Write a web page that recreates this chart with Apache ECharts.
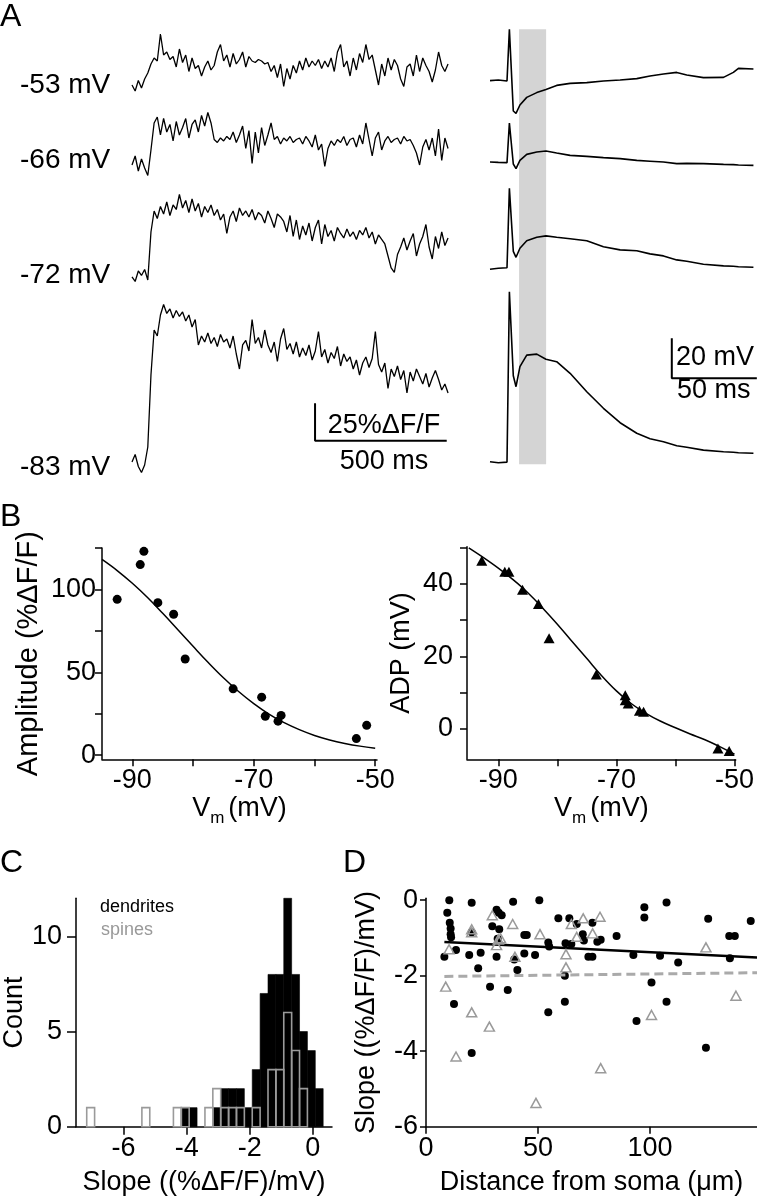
<!DOCTYPE html>
<html><head><meta charset="utf-8">
<script src="https://cdn.jsdelivr.net/npm/echarts@6/dist/echarts.min.js"></script>
<style>html,body{margin:0;padding:0;background:#fff}#c{width:757px;height:1199px}</style>
</head><body><div id="c"></div>
<script>
// ---------------- DATA ----------------
// Panel A, left: dendritic fluorescence traces (%ΔF/F), one sample every 12 ms
const fluorLabels = ['-53 mV', '-66 mV', '-72 mV', '-83 mV'];
const fluorStepMs = 12;
const fluor53 = [0,-4,3,-2,4,8,14,18,16,34,20,22,17,19,12,24,15,20,9,18,11,13,6,12,16,10,13,22,27,16,20,12,21,14,17,22,12,19,16,15,17,16,14,15,9,13,5,14,-1,11,4,13,8,16,10,18,12,16,13,17,11,16,12,18,9,22,27,12,16,6,18,10,21,15,27,17,20,10,0,14,6,18,10,17,13,4,-1,12,14,6,20,9,18,13,9,2,10,22,13,9,14];
const fluor66 = [2,8,-2,6,0,-5,12,30,34,22,33,24,29,18,31,22,27,33,20,29,32,24,35,28,37,30,19,17,20,18,21,19,24,17,22,28,13,25,3,24,10,27,15,22,30,19,21,16,20,18,21,17,19,20,16,21,18,14,22,12,16,1,13,18,15,19,17,21,15,19,20,14,22,16,30,19,8,20,24,12,18,21,17,19,20,16,21,18,19,15,10,2,14,19,12,20,8,26,5,20,13];
const fluor72 = [0,-3,4,1,5,-2,30,44,39,47,42,50,41,48,45,55,46,51,43,52,44,49,40,47,43,48,41,45,38,42,29,40,44,37,46,41,44,40,45,38,43,41,36,44,39,33,42,40,37,30,41,27,38,25,34,28,36,24,33,38,22,35,27,31,24,33,29,26,32,27,30,25,31,28,33,26,30,22,28,25,22,14,6,3,15,20,26,18,24,29,14,22,27,35,20,12,27,19,30,21,26];
const fluor83 = [0,5,-3,-7,-2,10,58,88,84,98,105,99,102,96,101,97,100,94,98,90,95,78,84,80,86,79,83,77,85,80,82,76,84,72,62,78,81,74,95,79,83,76,88,78,73,80,67,82,89,75,79,72,80,70,76,71,78,68,74,87,70,75,66,73,69,77,64,72,67,70,62,68,58,66,70,63,69,87,65,60,66,49,62,57,64,55,61,46,60,54,62,57,52,59,50,56,61,55,48,52,46];
const fluorScaleBar = { pct: 25, ms: 500 };

// Panel A, right: somatic voltage (mV) vs time (ms)
const vTimes = [0,4.9,10,11,11.4,12.2,13.7,15.3,17.6,21.6,27.5,32.9,39.2,47.1,56.9,66.7,76.5,86.3,94.1,102,109.8,115.7,125.5,137.3,143.1,146.1,154.9];
const v53 = [-53.3,-53,-53.5,-52.7,-27.7,-27.7,-68.5,-69.7,-65.5,-61.7,-59.3,-57.7,-55.7,-54.7,-54.3,-53.5,-53,-52.3,-51,-50,-49.2,-50.5,-51.8,-51.7,-49.2,-47.2,-47.5];
const v66 = [-66,-66.2,-66.3,-65.5,-46.5,-46.5,-67,-69.3,-65.2,-62.2,-61,-60.5,-61.5,-62.7,-63.2,-63.8,-64.3,-65.2,-65.6,-66,-66.8,-66.7,-66.8,-67.2,-67.3,-67.5,-67.7];
const v72 = [-72,-71.5,-71.2,-70.8,-31.5,-31.5,-63,-66,-61.5,-57.7,-56,-55.3,-56,-56.7,-57.7,-60.7,-62.3,-62.7,-64.3,-65.3,-67.3,-68,-69.5,-70.3,-70.5,-70.7,-71];
const v83 = [-83,-83.5,-83.2,-83,2,2,-40,-45.5,-35.5,-29.7,-29.2,-31.8,-33,-38.8,-48,-56.3,-63.5,-68.8,-71.5,-73,-75,-75.8,-77.2,-78,-78.3,-78.5,-78.8];
const adpWindowMs = [17.1, 33];
const vScaleBar = { mV: 20, ms: 50 };

// Panel B
const ampVm  = [-92.5,-88.7,-88.1,-85.8,-83.2,-81.3,-73.4,-68.7,-68.1,-65.5,-66,-53.1,-51.4];
const ampVal = [94,115,123,92,85,58,40,35,23.5,24,20.5,10,18];
const fitVm  = [-95,-92.5,-90,-87.5,-85,-82.5,-80,-77.5,-75,-72.5,-70,-67.5,-65,-62.5,-60,-57.5,-55,-52.5,-50];
const ampFit = [118.1,111.4,103.7,95.1,85.6,75.7,65.7,55.9,46.7,38.4,31.1,24.8,19.6,15.4,11.9,9.2,7.1,5.45,4.2];
const adpVm  = [-92.8,-88.9,-88.2,-85.9,-83.2,-81.4,-73.4,-68.5,-68.5,-68.0,-66.1,-65.4,-52.8,-50.9];
const adpVal = [46.4,43.4,43.4,38.4,34.5,25.0,15.0,9.3,7.9,7.0,5.0,4.7,-5.4,-6.1];
const adpFit = [50,47.3,44.4,41.2,37.6,33.4,28.9,24.1,19.4,14.7,10.5,7.0,4.3,2.1,0.3,-1.4,-3.0,-4.9,-7.0];

// Panel C: histogram of slopes (bin width 0.25)
const binWidth = 0.25;
const dendBinStart = [-4.17,-3.92,-3.17,-2.92,-2.67,-2.42,-2.17,-1.92,-1.67,-1.42,-1.17,-0.92,-0.67,-0.42,-0.17,0.08];
const dendCounts   = [1,1,1,2,2,2,1,3,7,8,8,12,8,5,4,2];
const spineBinStart = [-7.17,-5.42,-4.42,-4.17,-3.42,-3.17,-2.92,-2.67,-2.42,-1.92,-1.42,-1.17,-0.92,-0.67,-0.42];
const spineCounts   = [1,1,1,1,1,2,1,1,1,1,3,3,6,4,2];

// Panel D: slope vs distance
const dendDist  = [10.4,20.4,9.5,10.6,11.0,11.0,11.2,13.4,8.2,12.5,20.4,19.3,24.4,23.3,20.4,28.6,31.5,32.5,33.8,29.6,32.7,32.0,31.5,36.5,38.9,39.4,40.8,43.9,45.0,43.9,48.7,50.6,54.6,55.0,54.6,59.1,64.0,67.3,74.3,62.3,64.9,70.0,70.5,76.5,78.0,72.5,74.3,62.0,62.0,85.1,92.6,97.5,97.5,100.7,104.5,107.4,107.4,94.0,112.6,126.0,125.0,135.4,137.9,135.7,145.0];
const dendSlope = [0.0,-0.07,-0.33,-0.6,-0.75,-0.9,-0.98,-1.32,-1.5,-2.75,-4.05,-1.45,-1.39,-1.8,-0.85,-2.29,-0.25,-0.33,-0.4,-0.69,-0.77,-1.02,-1.5,-2.38,-0.04,-1.57,-1.85,-0.92,-0.92,-1.41,-1.45,0.0,-1.12,-1.23,-2.97,-0.48,-0.48,-0.63,-0.6,-1.14,-1.16,-0.9,-1.07,-1.1,-1.05,-1.5,-1.5,-2.0,-2.69,-0.95,-1.45,-0.19,-0.46,-2.18,-1.47,-0.06,-2.69,-3.2,-1.65,-0.49,-3.91,-0.95,-0.95,-1.54,-0.55];
const spineDist  = [8.8,10.3,13.4,20.4,20.4,20.4,29.6,28.3,31.5,32.3,33.3,38.7,39.7,49.1,50.9,62.5,62.5,64.9,67.3,70.2,74.4,77.7,78.0,100.7,125.0,138.4];
const spineSlope = [-2.29,-1.3,-4.14,-0.77,-0.85,-2.97,-0.4,-3.35,-1.19,-1.04,-1.01,-0.63,-1.5,-5.37,-0.9,-1.43,-1.78,-0.63,-0.97,-0.48,-0.88,-0.44,-4.45,-3.04,-1.25,-2.53];
const fitDist = [8.2, 147.8];
const dendFitSlope  = [-1.11, -1.52];
const spineFitSlope = [-2.02, -1.92];

// ---------------- CHART ----------------
const FONT = 'Liberation Sans';
const FS = 27;
const GRAY = '#9a9a9a';
const chart = echarts.init(document.getElementById('c'));

const grid = [], xAxis = [], yAxis = [], series = [];
function addGrid(g) { grid.push(g); return grid.length - 1; }
function hidden(gi, min, max) { return { type: 'value', gridIndex: gi, min, max, show: false }; }
function shownAxis(gi, min, max, ticks, labels, opt) {
  return Object.assign({
    type: 'value', gridIndex: gi, min, max,
    axisLine: { show: true, onZero: false, lineStyle: { color: '#000', width: 1.5 } },
    axisTick: { show: true, length: 7, lineStyle: { color: '#000', width: 1.5 }, customValues: ticks },
    axisLabel: { show: true, color: '#000', fontFamily: FONT, fontSize: FS, margin: 8, customValues: labels },
    splitLine: { show: false },
    nameLocation: 'middle',
    nameTextStyle: { color: '#000', fontFamily: FONT, fontSize: FS }
  }, opt || {});
}
const pair = (xs, ys) => xs.map((x, i) => [x, ys[i]]);

// ---- Panel A left traces
const fluorTraces = [fluor53, fluor66, fluor72, fluor83];
const fluorLayout = [
  { top: 25, height: 75, min: -10, max: 40 },
  { top: 100, height: 80, min: -8, max: 45.33 },
  { top: 185, height: 105, min: -8.67, max: 61.33 },
  { top: 295, height: 185, min: -12, max: 111.33 }
];
let lastFluorGrid = 0;
fluorTraces.forEach((tr, k) => {
  const L = fluorLayout[k];
  const gi = addGrid({ left: 132, width: 320, top: L.top, height: L.height });
  xAxis.push(hidden(gi, 0, 1215));
  yAxis.push(hidden(gi, L.min, L.max));
  series.push({ type: 'line', xAxisIndex: gi, yAxisIndex: gi, data: tr.map((v, i) => [i * fluorStepMs, v]),
    showSymbol: false, symbol: 'none', lineStyle: { color: '#000', width: 1.3 }, z: 3 });
  lastFluorGrid = gi;
});
// scale bar (25 %ΔF/F, 500 ms) drawn in the -83 mV trace's coordinates
{
  const t0 = 695, y0 = 14.2;
  series.push({ type: 'line', xAxisIndex: lastFluorGrid, yAxisIndex: lastFluorGrid,
    data: [[t0, y0 + fluorScaleBar.pct], [t0, y0], [t0 + fluorScaleBar.ms, y0]],
    showSymbol: false, symbol: 'none', lineStyle: { color: '#000', width: 2 }, z: 3 });
}

// ---- Panel A right: gray ADP window band
{
  const gi = addGrid({ left: 490, width: 267, top: 29.3, height: 435 });
  xAxis.push(hidden(gi, 0, 157));
  yAxis.push(hidden(gi, 0, 1));
  series.push({ type: 'custom', xAxisIndex: gi, yAxisIndex: gi, z: 0, silent: true,
    data: [[adpWindowMs[0], adpWindowMs[1]]],
    renderItem: (params, api) => {
      const cs = params.coordSys;
      const a = api.coord([api.value(0), 0]), b = api.coord([api.value(1), 0]);
      return { type: 'rect', shape: { x: a[0], y: cs.y, width: b[0] - a[0], height: cs.height }, style: { fill: '#d4d4d4' } };
    } });
}
const vTraces = [v53, v66, v72, v83];
const vLayout = [
  { top: 25, height: 95, min: -73, max: -25.5 },
  { top: 110, height: 65, min: -72.5, max: -40 },
  { top: 180, height: 100, min: -77.35, max: -27.35 },
  { top: 285, height: 185, min: -87.15, max: 5.35 }
];
let lastVGrid = 0;
vTraces.forEach((tr, k) => {
  const L = vLayout[k];
  const gi = addGrid({ left: 490, width: 267, top: L.top, height: L.height });
  xAxis.push(hidden(gi, 0, 157));
  yAxis.push(hidden(gi, L.min, L.max));
  series.push({ type: 'line', xAxisIndex: gi, yAxisIndex: gi, data: pair(vTimes, tr),
    showSymbol: false, symbol: 'none', lineStyle: { color: '#000', width: 1.6 }, z: 3 });
  lastVGrid = gi;
});
{
  const t0 = 106.9, y0 = -41.3;
  series.push({ type: 'line', xAxisIndex: lastVGrid, yAxisIndex: lastVGrid,
    data: [[t0, y0 + vScaleBar.mV], [t0, y0], [t0 + vScaleBar.ms, y0]],
    showSymbol: false, symbol: 'none', lineStyle: { color: '#000', width: 2 }, z: 3 });
}

// ---- Panel B
const vmName = '{v|V}{s|m}{v|(mV)}';
const vmRich = { v: { fontFamily: FONT, fontSize: FS, color: '#000', lineHeight: 36 },
                 s: { fontFamily: FONT, fontSize: 17, color: '#000', verticalAlign: 'bottom', lineHeight: 17, padding: [0, 4, 0, 0] } };
{
  const gi = addGrid({ left: 102, right: 380, top: 548, bottom: 439.7 });
  xAxis.push(shownAxis(gi, -95, -49.7, [-90, -80, -70, -60, -50], [-90, -70, -50],
    { name: vmName, nameGap: 28, nameTextStyle: { color: '#000', fontFamily: FONT, fontSize: FS, rich: vmRich } }));
  yAxis.push(shownAxis(gi, -2.5, 125, [0, 25, 50, 75, 100, 125], [0, 50, 100],
    { name: 'Amplitude (%ΔF/F)', nameGap: 59, nameRotate: 90, nameTextStyle: { color: '#000', fontFamily: FONT, fontSize: 29 } }));
  yAxis[gi].axisLabel.margin = 6;
  series.push({ type: 'line', xAxisIndex: gi, yAxisIndex: gi, data: pair(fitVm, ampFit), smooth: 0.4,
    showSymbol: false, symbol: 'none', lineStyle: { color: '#000', width: 1.5 } });
  series.push({ type: 'scatter', xAxisIndex: gi, yAxisIndex: gi, data: pair(ampVm, ampVal),
    symbol: 'circle', symbolSize: 9, itemStyle: { color: '#000', opacity: 1 } });
}
{
  const gi = addGrid({ left: 467, right: 13.7, top: 546.7, bottom: 439.7 });
  xAxis.push(shownAxis(gi, -95.3, -49.8, [-90, -80, -70, -60, -50], [-90, -70, -50],
    { name: vmName, nameGap: 28, nameTextStyle: { color: '#000', fontFamily: FONT, fontSize: FS, rich: vmRich } }));
  yAxis.push(shownAxis(gi, -8.4, 50.3, [0, 10, 20, 30, 40, 50], [0, 20, 40],
    { name: 'ADP (mV)', nameGap: 52, nameRotate: 90 }));
  yAxis[gi].axisLabel.margin = 14;
  series.push({ type: 'line', xAxisIndex: gi, yAxisIndex: gi, data: pair(fitVm, adpFit), smooth: 0.4,
    showSymbol: false, symbol: 'none', lineStyle: { color: '#000', width: 1.5 } });
  series.push({ type: 'scatter', xAxisIndex: gi, yAxisIndex: gi, data: pair(adpVm, adpVal),
    symbol: 'triangle', symbolSize: [11, 10], itemStyle: { color: '#000', opacity: 1 } });
}

// ---- Panel C histogram
{
  const gi = addGrid({ left: 76, right: 425, top: 898.3, bottom: 72.3 });
  xAxis.push(shownAxis(gi, -7.51, 0.61, [-6, -4, -2, 0], [-6, -4, -2, 0],
    { name: 'Slope ((%ΔF/F)/mV)', nameGap: 42 }));
  yAxis.push(shownAxis(gi, 0, 12, [0, 5, 10], [0, 5, 10],
    { name: 'Count', nameGap: 42, nameRotate: 90 }));
  xAxis[gi].axisTick.length = 8; yAxis[gi].axisTick.length = 9;
  yAxis[gi].axisLabel.margin = 14;
  const barItem = (fill, stroke, lw) => (params, api) => {
    const l = api.value(0), c = api.value(1);
    const p0 = api.coord([l, 0]), p1 = api.coord([l + binWidth, c]);
    return { type: 'rect', shape: { x: p0[0], y: p1[1], width: p1[0] - p0[0], height: p0[1] - p1[1] },
      style: { fill, stroke, lineWidth: lw } };
  };
  series.push({ type: 'custom', xAxisIndex: gi, yAxisIndex: gi, z: 2, data: pair(dendBinStart, dendCounts),
    renderItem: barItem('#000', '#000', 0.6) });
  series.push({ type: 'custom', xAxisIndex: gi, yAxisIndex: gi, z: 3, data: pair(spineBinStart, spineCounts),
    renderItem: barItem('rgba(0,0,0,0)', GRAY, 1.6) });
}

// ---- Panel D scatter
{
  const gi = addGrid({ left: 426, right: 0, top: 898.3, bottom: 72.3 });
  xAxis.push(shownAxis(gi, 0, 147.8, [0, 50, 100], [0, 50, 100],
    { name: 'Distance from soma (μm)', nameGap: 42 }));
  yAxis.push(shownAxis(gi, -6, 0.05, [0, -2, -4, -6], [0, -2, -4, -6],
    { name: 'Slope ((%ΔF/F)/mV)', nameGap: 46, nameRotate: 90 }));
  xAxis[gi].axisTick.length = 7; yAxis[gi].axisTick.length = 6;
  yAxis[gi].axisLabel.margin = 8;
  series.push({ type: 'scatter', xAxisIndex: gi, yAxisIndex: gi, data: pair(dendDist, dendSlope), z: 2,
    symbol: 'circle', symbolSize: 8, itemStyle: { color: '#000', opacity: 1 } });
  series.push({ type: 'line', xAxisIndex: gi, yAxisIndex: gi, data: pair(fitDist, spineFitSlope), z: 3,
    showSymbol: false, symbol: 'none', lineStyle: { color: '#aaaaaa', width: 3, type: [9, 5] } });
  series.push({ type: 'line', xAxisIndex: gi, yAxisIndex: gi, data: pair(fitDist, dendFitSlope), z: 4,
    showSymbol: false, symbol: 'none', lineStyle: { color: '#000', width: 2.5 } });
  series.push({ type: 'scatter', xAxisIndex: gi, yAxisIndex: gi, data: pair(spineDist, spineSlope), z: 5,
    symbol: 'triangle', symbolSize: [10, 9], itemStyle: { color: 'rgba(0,0,0,0)', borderColor: GRAY, borderWidth: 1.5, opacity: 1 } });
}

// ---- text annotations
const txt = (text, x, y, size, opt) => Object.assign({ type: 'text', x, y, silent: true,
  style: Object.assign({ text, fontFamily: FONT, fontSize: size, fill: '#000', verticalAlign: 'middle', align: 'left' }, (opt || {})) });
const fluorLabelY = [85, 160, 275, 467];
const graphic = [
  txt('A', 0, 17, 32), txt('B', 0, 517, 32), txt('C', 0, 863, 32), txt('D', 343, 863, 32),
  ...fluorLabels.map((s, i) => txt(s, 20, fluorLabelY[i], 28)),
  txt('25%ΔF/F', 384, 426, FS, { align: 'center' }),
  txt('500 ms', 384, 462, FS, { align: 'center' }),
  txt('20 mV', 676, 358, FS),
  txt('50 ms', 677, 391, FS),
  txt('dendrites', 100, 907, 18),
  txt('spines', 101, 930, 18, { fill: '#999' })
];

chart.setOption({ animation: false, backgroundColor: '#fff', grid, xAxis, yAxis, series, graphic });
</script></body></html>
